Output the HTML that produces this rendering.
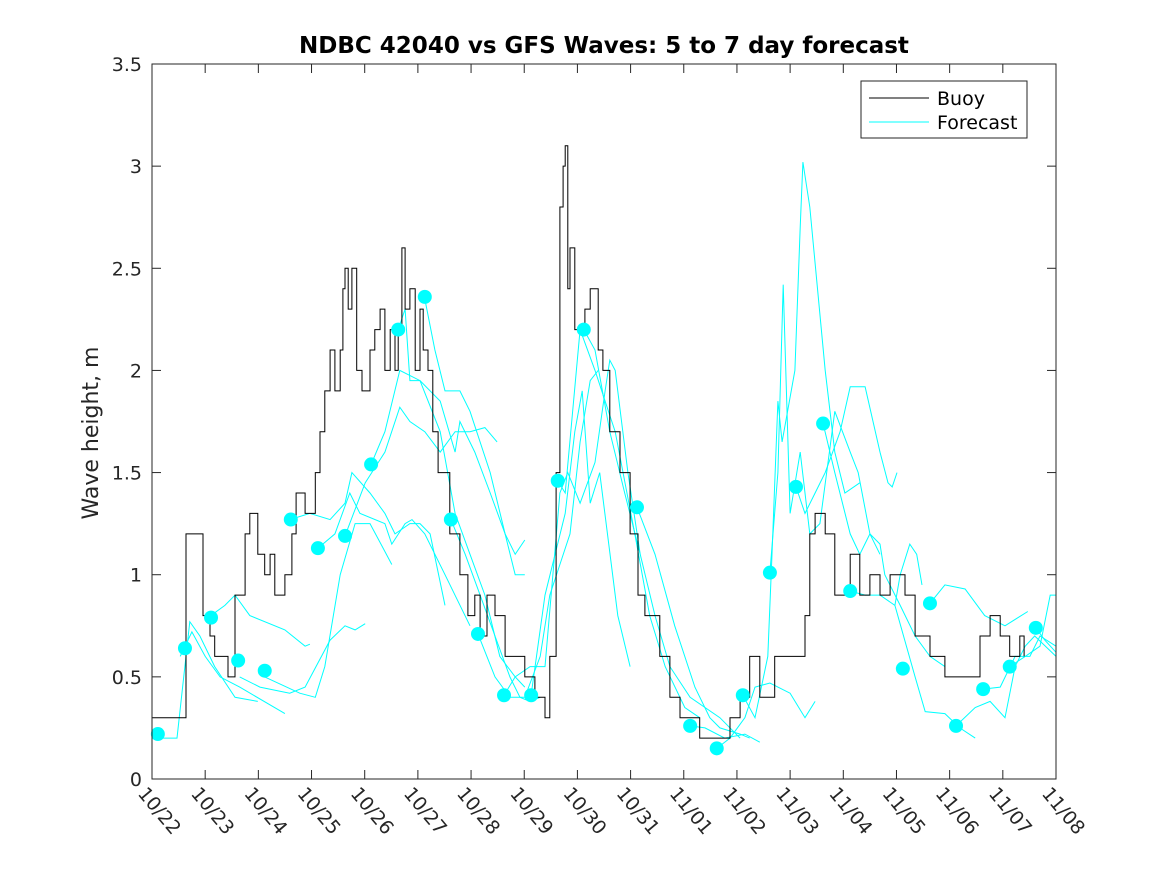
<!DOCTYPE html>
<html><head><meta charset="utf-8">
<style>
html,body{margin:0;padding:0;background:#fff;}
svg{display:block;font-family:"DejaVu Sans","Liberation Sans",sans-serif;}
</style></head>
<body>
<svg id="chart" width="1167" height="875" viewBox="0 0 1167 875"></svg>
<script>
const xTickLabels=["10/22","10/23","10/24","10/25","10/26","10/27","10/28","10/29","10/30","10/31","11/01","11/02","11/03","11/04","11/05","11/06","11/07","11/08"];
const yTicks=[0,0.5,1,1.5,2,2.5,3,3.5];
const yTickLabels=["0","0.5","1","1.5","2","2.5","3","3.5"];
const buoyDays=[0,0.47,0.64,0.81,0.96,1.09,1.18,1.43,1.56,1.75,1.84,1.99,2.12,2.22,2.31,2.5,2.63,2.71,2.88,3.07,3.16,3.25,3.35,3.44,3.54,3.59,3.63,3.69,3.76,3.85,3.95,4.1,4.19,4.29,4.38,4.48,4.57,4.63,4.7,4.76,4.85,4.95,5.04,5.1,5.19,5.28,5.38,5.6,5.79,5.94,6.07,6.17,6.3,6.45,6.64,6.83,7.01,7.2,7.39,7.48,7.6,7.67,7.73,7.77,7.82,7.86,7.95,8.14,8.24,8.39,8.48,8.61,8.8,8.99,9.14,9.27,9.55,9.74,9.93,10.3,10.68,10.87,11.06,11.24,11.43,11.71,12.19,12.28,12.37,12.47,12.66,12.84,13.13,13.31,13.5,13.69,13.88,14.16,14.35,14.63,14.91,15.38,15.57,15.76,15.95,16.13,16.32,16.4];
const buoyVals=[0.3,0.3,1.2,1.2,0.8,0.7,0.6,0.5,0.9,1.2,1.3,1.1,1.0,1.1,0.9,1.0,1.2,1.4,1.3,1.5,1.7,1.9,2.1,1.9,2.1,2.4,2.5,2.3,2.5,2.0,1.9,2.1,2.2,2.3,2.0,2.2,2.0,2.2,2.6,2.3,2.4,2.0,2.3,2.1,2.0,1.7,1.5,1.2,1.0,0.8,0.9,0.7,0.9,0.8,0.6,0.6,0.5,0.4,0.3,0.6,1.5,2.8,3.0,3.1,2.4,2.6,2.2,2.3,2.4,2.1,2.0,1.7,1.5,1.2,0.9,0.8,0.6,0.4,0.3,0.2,0.2,0.3,0.4,0.6,0.4,0.6,0.6,0.8,1.2,1.3,1.2,0.9,1.1,0.9,1.0,0.9,1.0,0.9,0.7,0.6,0.5,0.5,0.7,0.8,0.7,0.6,0.7,0.6];
const forecastDays=[
[0.15,0.47,0.71,0.9,1.18,1.56,1.99],
[0.53,0.75,1.0,1.28,1.65,2.5],
[1.0,1.37,1.56,1.84,2.5,2.88,2.97],
[1.65,2.03,2.59,2.88,3.35,3.63,3.82,4.01],
[2.12,2.78,3.07,3.25,3.54,3.82,4.1,4.51],
[2.59,2.97,3.35,3.63,3.76,4.1,4.38,4.57,4.85,5.04,5.23,5.51],
[3.12,3.44,3.72,3.91,4.38,4.51,4.76,4.89,5.13,5.51,5.98],
[3.63,4.01,4.38,4.66,4.85,5.13,5.42,5.7,5.98,6.26,6.49],
[4.12,4.38,4.66,5.04,5.42,5.7,5.79,6.07,6.36,6.64,6.83,7.01],
[4.63,4.76,4.85,5.04,5.42,5.7,5.98,6.26,6.54,6.83,7.01],
[5.13,5.32,5.51,5.79,5.98,6.36,6.64,6.83,7.01],
[5.62,5.89,6.17,6.45,6.73,6.92,7.11,7.3],
[6.13,6.45,6.73,7.01,7.3,7.48,7.67,7.86,8.05,8.24,8.39],
[6.62,6.83,7.11,7.39,7.67,7.82,8.05,8.33,8.52,8.61,8.71,8.95,9.18],
[7.13,7.39,7.58,7.77,7.95,8.09,8.24,8.42,8.76,8.99],
[7.63,7.77,8.05,8.33,8.71,9.08,9.36,9.65,10.02,10.3],
[8.12,8.33,8.61,8.89,9.18,9.46,9.74,10.12,10.68,11.06],
[9.12,9.46,9.83,10.21,10.49,10.68,11.06,11.24],
[10.12,10.4,10.77,11.15,11.43],
[10.62,10.87,11.15,11.34,11.62,12.0,12.28,12.47],
[11.11,11.34,11.58,11.66,11.77,11.85,12.09,12.19,12.24,12.37,12.66,12.84,13.03,13.31],
[11.62,11.77,11.87,12.0,12.19,12.37,12.56,12.84,13.13,13.28,13.5,13.69],
[12.11,12.28,12.47,12.66,12.94,13.13,13.41,13.69,13.84,13.92,14.01],
[12.62,12.84,13.13,13.31,13.5,13.69,13.78,14.07,14.35,14.63,14.91],
[13.13,13.41,13.69,13.97,14.07,14.25,14.38,14.48],
[13.97,14.35,14.54,14.91,15.19,15.48],
[14.63,14.91,15.29,15.66,16.04,16.47],
[15.12,15.48,15.76,16.04,16.23,16.42,16.6,17.0],
[15.63,15.95,16.23,16.51,16.7,17.0],
[16.13,16.42,16.7,16.89,17.0],
[16.62,16.79,17.0]];
const forecastVals=[
[0.2,0.2,0.77,0.7,0.55,0.4,0.38],
[0.6,0.72,0.6,0.5,0.45,0.32],
[0.78,0.85,0.9,0.8,0.73,0.65,0.66],
[0.5,0.45,0.42,0.45,0.68,0.75,0.73,0.76],
[0.5,0.42,0.4,0.55,1.0,1.25,1.25,1.05],
[1.27,1.3,1.27,1.35,1.5,1.4,1.3,1.2,1.25,1.25,1.2,0.85],
[1.13,1.2,1.4,1.3,1.25,1.15,1.25,1.27,1.2,1.0,0.75],
[1.19,1.45,1.6,1.82,1.75,1.7,1.6,1.7,1.7,1.72,1.65],
[1.54,1.7,2.0,1.95,1.85,1.6,1.75,1.6,1.4,1.2,1.1,1.17],
[2.2,2.3,1.95,1.95,1.7,1.3,1.1,0.9,0.6,0.5,0.45],
[2.35,2.1,1.9,1.9,1.8,1.5,1.2,1.0,1.0],
[1.27,1.1,0.9,0.7,0.5,0.4,0.38,0.4],
[0.71,0.5,0.4,0.4,0.6,0.9,1.05,1.2,1.65,1.95,2.0],
[0.41,0.5,0.55,0.55,1.4,1.5,1.35,1.55,1.9,2.05,2.0,1.5,1.1],
[0.41,0.9,1.1,1.3,1.7,1.9,1.35,1.5,0.8,0.55],
[1.46,1.4,2.2,2.0,1.7,1.2,0.8,0.55,0.35,0.3],
[2.2,2.1,1.7,1.4,1.1,0.8,0.55,0.4,0.3,0.2],
[1.33,1.1,0.75,0.45,0.3,0.25,0.22,0.2],
[0.26,0.25,0.2,0.22,0.18],
[0.15,0.2,0.3,0.45,0.47,0.42,0.3,0.38],
[0.41,0.3,0.6,1.1,1.85,1.65,2.0,2.7,3.02,2.8,2.0,1.6,1.4,1.45],
[1.01,1.5,2.42,1.3,1.6,1.2,1.25,1.8,1.6,1.5,1.2,1.1],
[1.43,1.3,1.4,1.5,1.7,1.92,1.92,1.6,1.45,1.43,1.5],
[1.74,1.5,1.2,1.1,1.2,1.15,1.0,0.85,0.7,0.6,0.55],
[0.92,0.9,0.9,0.85,1.0,1.15,1.1,0.95],
[0.85,0.5,0.33,0.32,0.25,0.2],
[0.86,0.95,0.93,0.8,0.75,0.82],
[0.26,0.35,0.38,0.3,0.55,0.65,0.7,0.6],
[0.44,0.45,0.6,0.6,0.7,0.65],
[0.55,0.6,0.65,0.9,0.9],
[0.74,0.68,0.62]];
const dotDays=[0.11,0.62,1.11,1.62,2.12,2.61,3.12,3.63,4.12,4.63,5.13,5.62,6.13,6.62,7.13,7.63,8.12,9.12,10.12,10.62,11.11,11.62,12.11,12.62,13.13,14.12,14.63,15.12,15.63,16.13,16.62];
const dotVals=[0.22,0.64,0.79,0.58,0.53,1.27,1.13,1.19,1.54,2.2,2.36,1.27,0.71,0.41,0.41,1.46,2.2,1.33,0.26,0.15,0.41,1.01,1.43,1.74,0.92,0.54,0.86,0.26,0.44,0.55,0.74];

const L=152,R=1056,T=64,B=779;
const xs=d=>L+(R-L)*d/17;
const ys=v=>B-(B-T)*v/3.5;
const svg=document.getElementById('chart');
const NS='http://www.w3.org/2000/svg';
function mk(tag,attrs,parent){const e=document.createElementNS(NS,tag);for(const k in attrs)e.setAttribute(k,attrs[k]);(parent||svg).appendChild(e);return e;}

const axes=mk('rect',{x:L,y:T,width:R-L,height:B-T,fill:'#fff',stroke:'#262626','stroke-width':1});



forecastDays.forEach((ds,i)=>{
  const p=ds.map((d,j)=>xs(d).toFixed(1)+','+ys(forecastVals[i][j]).toFixed(1)).join(' ');
  const pl=mk('polyline',{points:p,fill:'none',stroke:'#00ffff','stroke-width':1});
  
  
});
let bp=[];
buoyDays.forEach((d,i)=>{ if(i>0) bp.push(xs(d).toFixed(1)+','+ys(buoyVals[i-1]).toFixed(1)); bp.push(xs(d).toFixed(1)+','+ys(buoyVals[i]).toFixed(1)); });
const bl=mk('polyline',{points:bp.join(' '),fill:'none',stroke:'#000','stroke-width':1});


dotDays.forEach((d,i)=>{
  const c=mk('circle',{cx:xs(d),cy:ys(dotVals[i]),r:7,fill:'#00ffff'});
  
  
});
mk('rect',{x:L,y:T,width:R-L,height:B-T,fill:'none',stroke:'#262626','stroke-width':1});

yTicks.forEach((v,i)=>{
  const y=ys(v);
  mk('line',{x1:L,x2:L+9,y1:y,y2:y,stroke:'#262626'});
  mk('line',{x1:R,x2:R-9,y1:y,y2:y,stroke:'#262626'});
  const t=mk('text',{x:L-10,y:y+7,'text-anchor':'end','font-size':19,fill:'#262626'});
  t.textContent=yTickLabels[i];
  
  
});
xTickLabels.forEach((s,i)=>{
  const x=xs(i);
  mk('line',{x1:x,x2:x,y1:B,y2:B-9,stroke:'#262626'});
  mk('line',{x1:x,x2:x,y1:T,y2:T+9,stroke:'#262626'});
  const t=mk('text',{x:x-15,y:B+15,'font-size':19,fill:'#262626',transform:`rotate(50 ${x-15} ${B+15})`});
  t.textContent=s;
  
  
});
const title=mk('text',{x:604,y:53,'text-anchor':'middle','font-size':23,'font-weight':'bold',fill:'#000'});
title.textContent='NDBC 42040 vs GFS Waves: 5 to 7 day forecast';


const yl=mk('text',{x:98,y:433,'text-anchor':'middle','font-size':22,fill:'#262626',transform:'rotate(-90 98 433)'});
yl.textContent='Wave height, m';



const lg=mk('g',{});


mk('rect',{x:861,y:81,width:166,height:57,fill:'#fff',stroke:'#262626'},lg);
mk('line',{x1:869,x2:929,y1:98,y2:98,stroke:'#000'},lg);
mk('line',{x1:869,x2:929,y1:122,y2:122,stroke:'#00ffff'},lg);
const t1=mk('text',{x:937,y:105,'font-size':19,fill:'#000'},lg);t1.textContent='Buoy';


const t2=mk('text',{x:937,y:129,'font-size':19,fill:'#000'},lg);t2.textContent='Forecast';


</script>
</body></html>
